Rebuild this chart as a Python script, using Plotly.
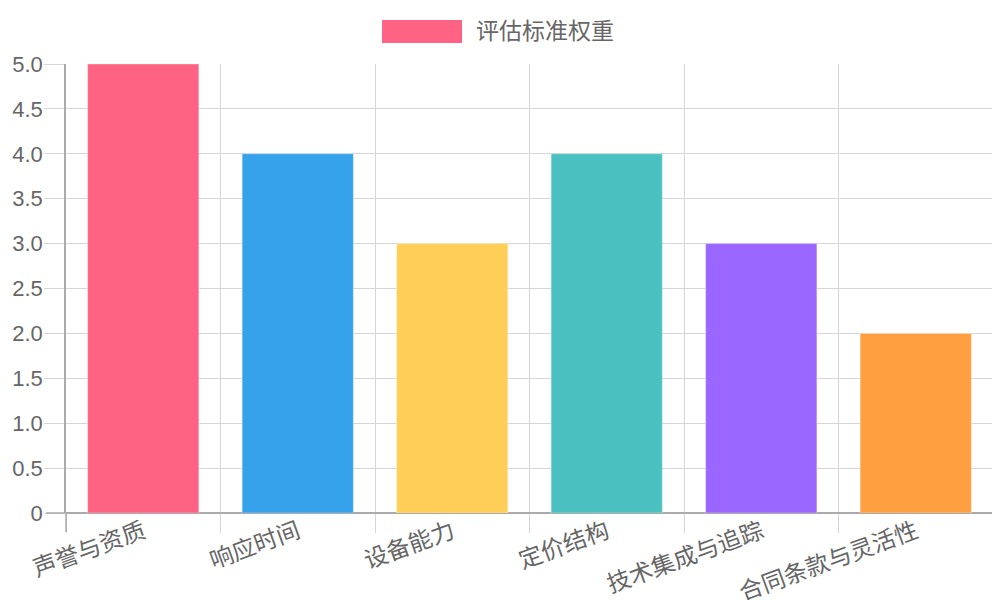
import plotly.graph_objects as go

# Data
criteria = ['声誉与资质', '响应时间', '设备能力', '定价结构', '技术集成与追踪', '合同条款与灵活性']
weights = [5, 4, 3, 4, 3, 2]
bar_colors = ['#FF6384', '#36A2EB', '#FFCE56', '#4BC0C0', '#9966FF', '#FF9F40']
series_name = '评估标准权重'
y_ticks = [0, 0.5, 1, 1.5, 2, 2.5, 3, 3.5, 4, 4.5, 5]
y_ticktext = ['0', '0.5', '1.0', '1.5', '2.0', '2.5', '3.0', '3.5', '4.0', '4.5', '5.0']

font_family = 'Liberation Sans, Arial, Noto Sans CJK SC, sans-serif'
grid = '#d6d6d6'
axis_col = '#aaa'

fig = go.Figure()
fig.add_trace(go.Bar(
    x=criteria, y=weights, name=series_name,
    marker=dict(color=bar_colors, line=dict(color='rgba(255,255,255,0.35)', width=1)),
    showlegend=False,
))

# the page has an 8px body margin, so margins are shifted to compensate
# Legend drawn by hand (wide colour box like Chart.js)
fig.add_shape(type='rect', xref='paper', yref='paper',
              x0=0.3409, x1=0.4272, y0=1.0468, y1=1.098,
              fillcolor=bar_colors[0], line=dict(width=0))
fig.add_annotation(text=series_name, xref='paper', yref='paper',
                   x=0.4401, y=1.0724, xanchor='left', yanchor='middle',
                   showarrow=False, font=dict(size=23, color='#666'))

# darker tick stubs where the two axes meet (Chart.js draws the border colour there)
fig.add_shape(type='line', xref='paper', yref='paper', x0=0, x1=0, y0=0, y1=-19 / 449,
              line=dict(color=axis_col, width=1.5))
fig.add_shape(type='line', xref='paper', yref='paper', x0=0, x1=-20 / 927, y0=0, y1=0,
              line=dict(color=axis_col, width=1.5))
# last boundary tick at the right edge
fig.add_shape(type='line', xref='paper', yref='paper', x0=1, x1=1, y0=0, y1=-19 / 449,
              line=dict(color=grid, width=1))

fig.update_layout(
    width=1000, height=600,
    margin=dict(l=58, r=15, t=56, b=95),
    paper_bgcolor='white', plot_bgcolor='white',
    font=dict(family=font_family, size=22, color='#666'),
    bargap=0.28,
)
fig.update_xaxes(
    tickson='boundaries', ticks='outside', ticklen=19, tickcolor=grid, tickwidth=1,
    showgrid=True, gridcolor=grid, gridwidth=1,
    tickangle=-20, tickfont=dict(size=23.5, color='#666'),
    ticklabelstandoff=0,
    showline=False, automargin=False,
)
fig.update_yaxes(
    range=[0, 5], tickvals=y_ticks, ticktext=y_ticktext,
    ticks='outside', ticklen=20, tickcolor=grid, tickwidth=1,
    ticklabelstandoff=-3,
    showgrid=True, gridcolor=grid, gridwidth=1,
    showline=True, linecolor=axis_col, linewidth=1.5,
    zeroline=True, zerolinecolor=axis_col, zerolinewidth=1.5,
    tickfont=dict(size=22, color='#666'), automargin=False,
)

fig.write_html('out.html')
